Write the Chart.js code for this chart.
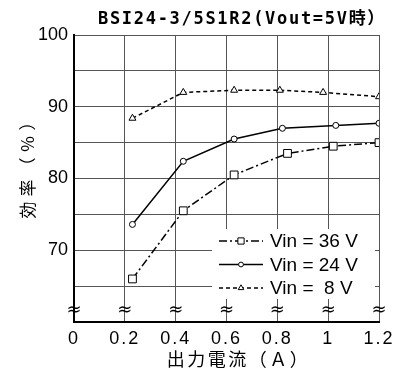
<!DOCTYPE html>
<html><head><meta charset="utf-8">
<script src="https://cdn.jsdelivr.net/npm/chart.js@4.4.1/dist/chart.umd.min.js"></script>
<style>html,body{margin:0;padding:0;background:#fff;}#wrap{width:401px;height:371px;}</style>
</head><body><div id="wrap"><canvas id="c" width="401" height="371"></canvas></div>
<script>
const chartTitle = 'BSI24-3/5S1R2(Vout=5V時）';
const xAxisTitle = '出力電流（Ａ）';
const yAxisTitle = '効率（％）';
const seriesLabels = ['Vin = 36 V', 'Vin = 24 V', 'Vin =  8 V'];
const current36 = [0.23, 0.43, 0.63, 0.84, 1.02, 1.2];
const eff36     = [66.0, 75.5, 80.5, 83.5, 84.5, 85.0];
const current24 = [0.23, 0.43, 0.63, 0.82, 1.03, 1.2];
const eff24     = [73.6, 82.4, 85.5, 87.0, 87.4, 87.7];
const current8  = [0.23, 0.43, 0.63, 0.81, 0.98, 1.2];
const eff8      = [88.4, 92.0, 92.3, 92.3, 92.0, 91.4];
const xTickValues = [0, 0.2, 0.4, 0.6, 0.8, 1, 1.2];
const xTickLabels = ['0', '0.2', '0.4', '0.6', '0.8', '1', '1.2'];
const yTickLabels = [70, 80, 90, 100];
const breakMark = '≈';

const pts = (xs, ys) => xs.map((x, i) => ({x: x, y: ys[i]}));
const common = {borderColor: '#000', borderWidth: 1.5, pointBackgroundColor: '#fff',
  pointBorderColor: '#000', pointBorderWidth: 1, tension: 0, fill: false};

function patch(scale, method, spacing, dx, dy) {
  if (scale['_p_' + method]) return;
  const orig = scale[method];
  scale[method] = function () {
    const ctx = this.ctx;
    ctx.save();
    ctx.letterSpacing = spacing;
    ctx.translate(dx, dy);
    orig.apply(this, arguments);
    ctx.restore();
  };
  scale['_p_' + method] = true;
}

const decor = {
  id: 'decor',
  beforeDraw(chart) {
    patch(chart.scales.x, 'drawLabels', '2px', 0, 0);
    patch(chart.scales.x, 'drawTitle', '2.5px', 12, 0);
    patch(chart.scales.y, 'drawTitle', '5px', 0, -15);
  },
  afterDraw(chart) {
    const ctx = chart.ctx;
    const xs = chart.scales.x, ys = chart.scales.y;
    ctx.save();
    // title
    ctx.fillStyle = '#000';
    ctx.font = 'bold 17px "DejaVu Sans Mono", "Noto Sans CJK JP"';
    ctx.letterSpacing = '1.7px';
    ctx.textAlign = 'left';
    ctx.textBaseline = 'middle';
    ctx.fillText(chartTitle, 98, 20);
    ctx.letterSpacing = '0px';
    // break marks
    ctx.font = '18px "DejaVu Sans"';
    ctx.textAlign = 'center';
    const yb = ys.getPixelForValue(61.6);
    xTickValues.forEach(v => ctx.fillText(breakMark, xs.getPixelForValue(v), yb));
    // legend
    ctx.fillStyle = '#fff';
    ctx.fillRect(212, 229, 163, 70);
    chart.data.datasets.forEach((ds, i) => {
      const y = 241 + i * 23.5;
      ctx.strokeStyle = '#000';
      ctx.lineWidth = 1.5;
      ctx.setLineDash(ds.borderDash || []);
      ctx.beginPath(); ctx.moveTo(219, y); ctx.lineTo(263, y); ctx.stroke();
      ctx.setLineDash([]);
      ctx.fillStyle = '#fff';
      ctx.lineWidth = 1;
      Chart.helpers.drawPoint(ctx, {pointStyle: ds.pointStyle, radius: ds.pointRadius * 0.8, borderWidth: 1, rotation: 0}, 241, y);
      ctx.fillStyle = '#000';
      ctx.font = '19px "Liberation Sans"';
      ctx.textAlign = 'left';
      ctx.textBaseline = 'middle';
      ctx.fillText(ds.label, 270, y + 1);
    });
    ctx.restore();
  }
};

new Chart(document.getElementById('c'), {
  type: 'line',
  data: {
    datasets: [
      Object.assign({label: seriesLabels[0], data: pts(current36, eff36), borderDash: [8, 3, 2, 3], pointStyle: 'rect', pointRadius: 5.5}, common),
      Object.assign({label: seriesLabels[1], data: pts(current24, eff24), borderDash: [], pointStyle: 'circle', pointRadius: 3}, common),
      Object.assign({label: seriesLabels[2], data: pts(current8, eff8), borderDash: [4, 3], pointStyle: 'triangle', pointRadius: 4}, common)
    ]
  },
  options: {
    responsive: false, animation: false, devicePixelRatio: 1,
    layout: {padding: {top: 35, right: 22, left: 0, bottom: 0}},
    plugins: {legend: {display: false}, title: {display: false}, tooltip: {enabled: false}},
    scales: {
      x: {
        type: 'linear', min: 0, max: 1.2,
        afterBuildTicks: s => { s.ticks = xTickValues.map(v => ({value: v})); },
        afterFit: s => { s.height = 49; },
        grid: {color: '#555', lineWidth: 1, drawTicks: false},
        border: {color: '#000', width: 2},
        ticks: {color: '#000', padding: 6, maxRotation: 0, autoSkip: false,
          font: {family: 'Liberation Sans', size: 18},
          callback: (v, i) => xTickLabels[i]},
        title: {display: true, text: xAxisTitle, color: '#000',
          font: {family: 'Noto Sans CJK JP', size: 18}, padding: {top: 0, bottom: 1}}
      },
      y: {
        min: 60, max: 100,
        afterFit: s => { s.width = 74; },
        grid: {color: '#555', lineWidth: 1, drawTicks: false},
        border: {color: '#000', width: 2},
        ticks: {stepSize: 5, color: '#000', padding: 6, autoSkip: false,
          font: {family: 'Liberation Sans', size: 18},
          callback: v => yTickLabels.includes(v) ? String(v) : ''},
        title: {display: true, text: yAxisTitle, color: '#000',
          font: {family: 'Noto Sans CJK JP', size: 17}, padding: {top: 17, bottom: 0}}
      }
    }
  },
  plugins: [decor]
});
</script>
</body></html>
